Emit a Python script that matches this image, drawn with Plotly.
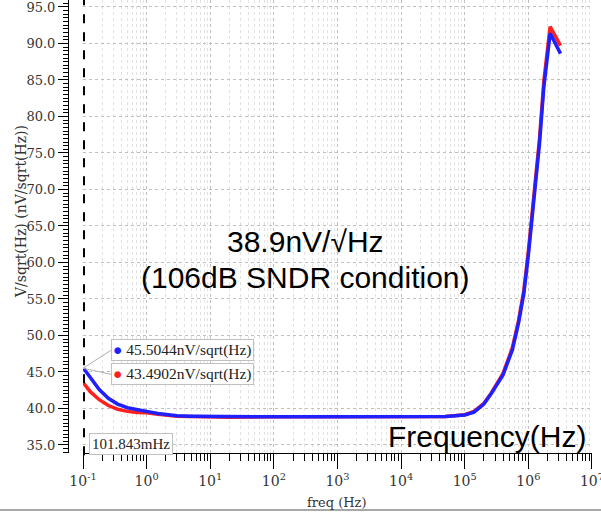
import plotly.graph_objects as go

freq = [0.101843, 0.13, 0.18, 0.25, 0.35, 0.5, 0.7, 1, 1.5, 2, 3, 5, 10, 20, 100, 1e3, 1e4,
        5e4, 1e5, 1.4e5, 2e5, 2.6e5, 4e5, 5.6e5, 7e5, 8.5e5, 1e6, 1.25e6, 1.5e6, 1.75e6, 2.2e6, 3.2e6]
blue_vals = [45.5044, 44.2, 42.6, 41.4, 40.6, 40.1, 39.8, 39.6, 39.3, 39.15, 39.0, 38.95, 38.9, 38.85,
             38.85, 38.85, 38.85, 38.9, 39.1, 39.5, 40.6, 42.0, 44.6, 48.0, 51.7, 55.8, 61.0, 69.0,
             76.4, 84.0, 91.4, 88.6]
red_vals = [43.4902, 42.3, 41.2, 40.4, 39.9, 39.6, 39.45, 39.4, 39.2, 39.05, 38.95, 38.9, 38.85, 38.8,
            38.85, 38.85, 38.85, 38.9, 39.15, 39.6, 40.7, 42.1, 44.8, 48.3, 52.0, 56.2, 61.5, 69.5,
            77.0, 84.8, 92.3, 89.7]
x_tickvals = [0.1, 1, 10, 100, 1e3, 1e4, 1e5, 1e6, 1e7]
x_ticktext = ["10<sup>-1</sup>", "10<sup>0</sup>", "10<sup>1</sup>", "10<sup>2</sup>", "10<sup>3</sup>",
              "10<sup>4</sup>", "10<sup>5</sup>", "10<sup>6</sup>", "10<sup>7</sup>"]
marker_freq = 0.101843
blue_label = "45.5044nV/sqrt(Hz)"
red_label = "43.4902nV/sqrt(Hz)"
marker_label = "101.843mHz"

serif = "DejaVu Serif"
lab_serif = "Liberation Serif"
fig = go.Figure()
fig.add_trace(go.Scatter(x=freq, y=red_vals, mode="lines", line=dict(color="#ff2020", width=3.5),
                         showlegend=False))
fig.add_trace(go.Scatter(x=freq, y=blue_vals, mode="lines", line=dict(color="#2020ff", width=3.5),
                         showlegend=False))

# marker vertical dashed line
fig.add_shape(type="line", xref="x", yref="paper", x0=marker_freq, x1=marker_freq, y0=-0.005, y1=1,
              line=dict(color="black", width=3, dash="dash"))

PW = 524.0
PH = 453.0
fig.update_layout(
    width=601, height=514,
    margin=dict(l=68, r=9, t=0, b=61),
    plot_bgcolor="white", paper_bgcolor="white",
    font=dict(family=serif, size=13, color="#333"),
    xaxis=dict(type="log", range=[-1, 7.0005], domain=[15/PW, 1], automargin=False,
               tickvals=x_tickvals, ticktext=x_ticktext, ticklabeloverflow="allow",
               showline=True, linecolor="black", linewidth=1,
               ticks="outside", ticklen=15, tickcolor="black",
               showgrid=True, gridcolor="#c0c0c0", griddash="dot", gridwidth=1,
               minor=dict(dtick="D1", ticks="outside", ticklen=7, tickcolor="black",
                          showgrid=True, gridcolor="#e2e2e2", griddash="dot"),
               tickfont=dict(family=serif, size=14, color="#333"),
               zeroline=False),
    yaxis=dict(range=[33.9, 95.95], anchor="free", position=0, dtick=5, tickformat=".1f",
               automargin=False, ticklabeloverflow="allow",
               showline=True, linecolor="black", linewidth=1,
               ticks="outside", ticklen=10, tickcolor="black",
               showgrid=True, gridcolor="#c0c0c0", griddash="dot",
               minor=dict(dtick=0.5, ticks="outside", ticklen=5, tickcolor="black", showgrid=False),
               tickfont=dict(family=serif, size=13, color="#333"),
               zeroline=False),
)

# axis titles
fig.add_annotation(x=(337-68)/PW, y=(PH-503)/PH, xref="paper", yref="paper", text="freq (Hz)",
                   showarrow=False, yanchor="middle", font=dict(family=serif, size=13, color="#333"))
fig.add_annotation(x=(11-68)/PW, y=(PH-212)/PH, xref="paper", yref="paper",
                   text="V/sqrt(Hz) (nV/sqrt(Hz))",
                   showarrow=False, textangle=-90, font=dict(family=serif, size=14, color="#333"))

# bottom separator line
fig.add_shape(type="line", xref="paper", yref="paper", x0=-68/PW, x1=533/PW, y0=(PH-510)/PH,
              y1=(PH-510)/PH, line=dict(color="#a8a8a8", width=2))

# text annotations
fig.add_annotation(x=2.5, y=62.9, xref="x", yref="y", text="38.9nV/√Hz", showarrow=False,
                   font=dict(family="Liberation Sans", size=30, color="black"))
fig.add_annotation(x=2.5, y=58.0, xref="x", yref="y", text="(106dB SNDR condition)", showarrow=False,
                   font=dict(family="Liberation Sans", size=30, color="black"))
fig.add_annotation(x=1.0, y=36.2, xref="paper", yref="y", text="Frequency(Hz)", showarrow=False,
                   xanchor="right", xshift=-4, font=dict(family="Liberation Sans", size=30, color="black"))

# marker labels
fig.add_annotation(x=-1, y=blue_vals[0], xref="x", yref="y",
                   text="<span style='color:#2020ff'>●</span> " + blue_label,
                   showarrow=True, arrowhead=0, arrowcolor="#b0b0b0", arrowwidth=1,
                   ax=28, ay=-18, xanchor="left", bordercolor="#c0c0c0", borderwidth=1, borderpad=1,
                   bgcolor="white", font=dict(family=lab_serif, size=15.5, color="#222"))
fig.add_annotation(x=-1, y=blue_vals[0], xref="x", yref="y",
                   text="<span style='color:#ff2020'>●</span> " + red_label,
                   showarrow=True, arrowhead=0, arrowcolor="#b0b0b0", arrowwidth=1,
                   ax=28, ay=6, xanchor="left", bordercolor="#c0c0c0", borderwidth=1, borderpad=1,
                   bgcolor="white", font=dict(family=lab_serif, size=15.5, color="#222"))
fig.add_annotation(x=-0.9, y=35.2, xref="x", yref="y", text=marker_label, showarrow=False,
                   xanchor="left", bordercolor="#c0c0c0", borderwidth=1, borderpad=2,
                   bgcolor="white", font=dict(family=lab_serif, size=15, color="#222"))

fig.write_html("out.html", post_script="document.body.style.margin='0px';",
               config={"displayModeBar": False})
